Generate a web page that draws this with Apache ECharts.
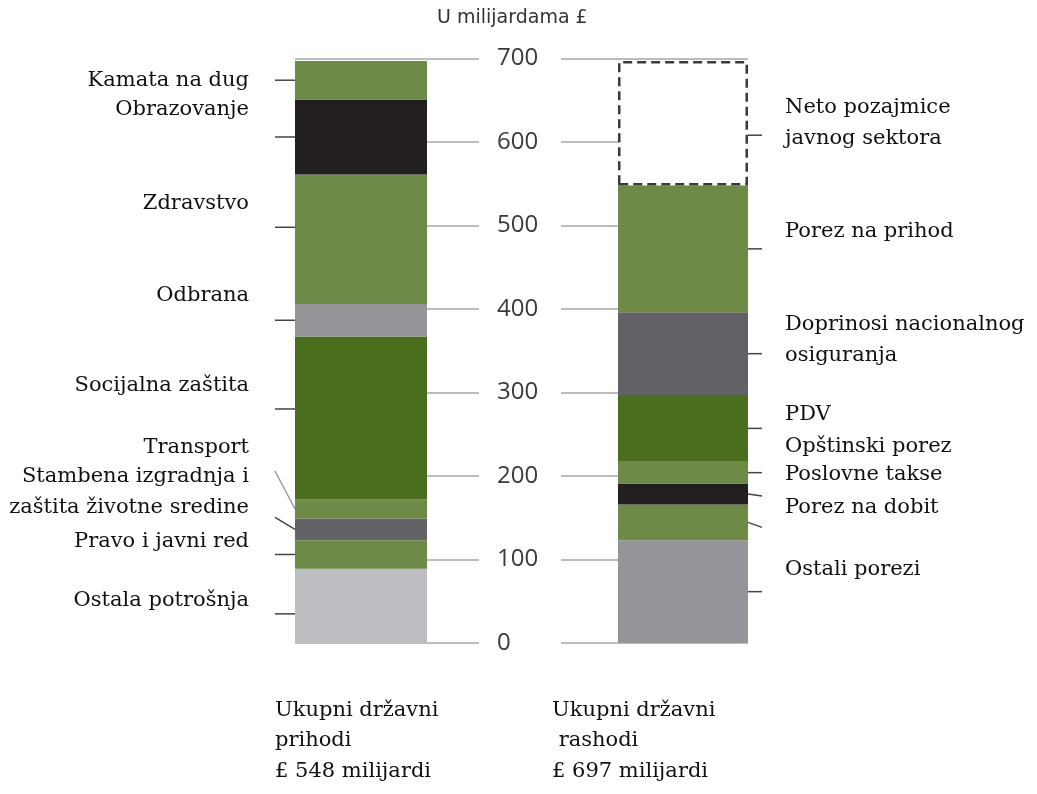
<!DOCTYPE html>
<html>
<head>
<meta charset="utf-8">
<script src="https://cdn.jsdelivr.net/npm/echarts@6/dist/echarts.min.js"></script>
<style>
  html, body { margin: 0; padding: 0; background: #fff; }
  #main { width: 1037px; height: 794px; }
</style>
</head>
<body>
<div id="main"></div>
<script>
// iznosi u milijardama £, odozdo nagore
var leftNames = ['Ostala potrošnja', 'Pravo i javni red', 'Stambena izgradnja i\nzaštita životne sredine', 'Transport',
  'Socijalna zaštita', 'Odbrana', 'Zdravstvo', 'Obrazovanje', 'Kamata na dug'];
var leftValues = [89, 34, 26, 23, 195, 39, 155, 90, 46];

var rightNames = ['Ostali porezi', 'Porez na dobit', 'Poslovne takse', 'Opštinski porez', 'PDV',
  'Doprinosi nacionalnog\nosiguranja', 'Porez na prihod', 'Neto pozajmice\njavnog sektora'];
var rightValues = [123, 43, 25, 26, 80, 99, 152, 149];

var yTicks = [0, 100, 200, 300, 400, 500, 600, 700];
var unitTitle = 'U milijardama £';
var leftCaption = 'Ukupni državni\nprihodi\n£ 548 milijardi';
var rightCaption = 'Ukupni državni\n rashodi\n£ 697 milijardi';

// boje
var LG = '#6e8a47', DG = '#4a6e1d', BK = '#231f20', GR = '#939598', DGR = '#616265', LGR = '#bdbec1';
var leftColors = [LGR, LG, DGR, LG, DG, GR, LG, BK, LG];
var rightColors = [GR, LG, BK, LG, DG, DGR, LG, null];

// pomeraji natpisa i crtica (px) u odnosu na sredinu segmenta
var leftLabelDy = [-5, -13, -37, -61, -32, -25, -36, -27, 0];
var leftTick = [[8, 8], [0, 0], [0, -12], [0, -38], [-9, -9], [0, 0], [-12, -12], [0, 0], [0, 0]];
var rightLabelDy = [-22, -15, -19, -26, -14, -14, -17, 0];
var rightTick = [[0, 0], [0, 5], [0, 2], [0, 0], [0, 0], [0, 0], [0, 0], [12, 12]];

var TOP = 58.5, BOTTOM = 794 - 643;
var chart = echarts.init(document.getElementById('main'));

function barSeries(names, values, colors, axis) {
  return names.map(function (n, i) {
    var dashed = colors[i] === null;
    return {
      name: n, type: 'bar', stack: 's' + axis, xAxisIndex: axis, yAxisIndex: axis,
      barWidth: '100%', data: [values[i]], silent: true,
      itemStyle: dashed
        ? { color: '#fff', borderColor: '#3a3a3a', borderWidth: 2.5, borderType: [9, 5] }
        : { color: colors[i] }
    };
  });
}

function yAx(grid, showLines, showLabels) {
  return {
    type: 'value', gridIndex: grid, min: 0, max: 700, interval: 100, position: 'right',
    axisLine: { show: false }, axisTick: { show: false },
    splitLine: { show: showLines, lineStyle: { color: '#a6a6a6', width: 1.5 } },
    axisLabel: { show: showLabels, margin: 18, color: '#3a3a3a', fontFamily: 'Open Sans', fontSize: 24 }
  };
}

function xAx(grid) {
  return { type: 'category', gridIndex: grid, data: ['a'], show: false };
}

chart.setOption({
  animation: false,
  grid: [
    { left: 295, width: 132, top: TOP, bottom: BOTTOM },
    { left: 618, width: 130, top: TOP, bottom: BOTTOM },
    { left: 295, width: 184, top: TOP, bottom: BOTTOM },
    { left: 561, width: 187, top: TOP, bottom: BOTTOM }
  ],
  xAxis: [xAx(0), xAx(1), xAx(2), xAx(3)],
  yAxis: [yAx(0, false, false), yAx(1, false, false), yAx(2, true, true), yAx(3, true, false)],
  series: barSeries(leftNames, leftValues, leftColors, 0).concat(barSeries(rightNames, rightValues, rightColors, 1))
});

var serifFont = '21px "DejaVu Serif"';
var graphics = [];
function addText(x, y, text, align, lh) {
  graphics.push({
    type: 'text', x: x, y: y, silent: true,
    style: { text: text, align: align, verticalAlign: 'middle', font: serifFont, fill: '#111', lineHeight: lh || 31 }
  });
}
function addLine(x1, y1, x2, y2, color) {
  graphics.push({
    type: 'line', silent: true,
    shape: { x1: x1, y1: y1, x2: x2, y2: y2 },
    style: { stroke: color, lineWidth: 1.5 }
  });
}

function annotate(values, names, labelDy, ticks, axis, barX, farX, textX, align) {
  var cum = 0;
  values.forEach(function (v, i) {
    var mid = chart.convertToPixel({ yAxisIndex: axis }, cum + v / 2);
    cum += v;
    var color = (axis === 0 && i === 3) ? '#9a9a9a' : '#444';
    addLine(barX, mid + ticks[i][0], farX, mid + ticks[i][1], color);
    addText(textX, mid + labelDy[i], names[i], align);
  });
}

annotate(leftValues, leftNames, leftLabelDy, leftTick, 0, 295, 275, 249, 'right');
annotate(rightValues, rightNames, rightLabelDy, rightTick, 1, 748, 762, 785, 'left');

graphics.push({
  type: 'text', x: 437, y: 18, silent: true,
  style: { text: unitTitle, verticalAlign: 'middle', font: '19px "DejaVu Sans"', fill: '#333' }
});
addText(275, 741, leftCaption, 'left', 30.5);
addText(552, 741, rightCaption, 'left', 30.5);

chart.setOption({ graphic: graphics });
</script>
</body>
</html>
